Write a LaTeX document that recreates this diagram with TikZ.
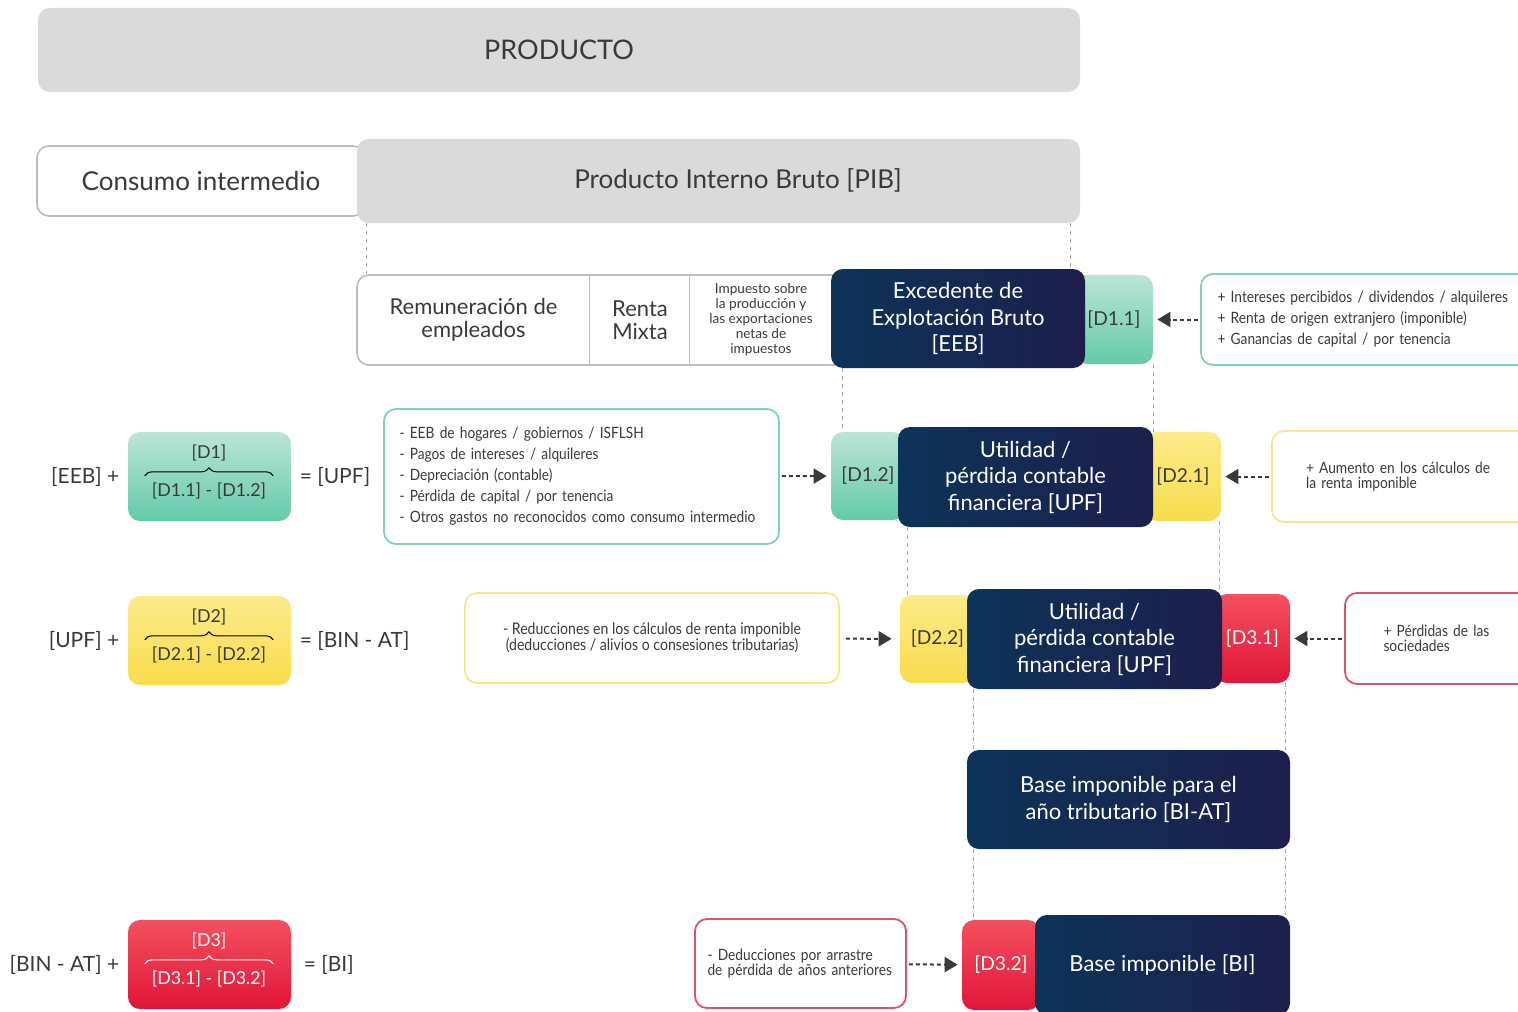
\documentclass[tikz,border=0pt]{standalone}
\usepackage{fontspec}
\setmainfont{Lato}
\newfontfamily\narrowfont[FakeStretch=0.88]{Lato}
\usetikzlibrary{positioning, arrows.meta, decorations.pathreplacing}

\definecolor{inkgray}{HTML}{3A3A3A}
\definecolor{panelgray}{HTML}{DADADA}
\definecolor{edgegray}{HTML}{BDBDBD}
\definecolor{navyL}{HTML}{0D3358}
\definecolor{navyR}{HTML}{1C1F4C}
\definecolor{mintT}{HTML}{BCE5D7}
\definecolor{mintB}{HTML}{63CAA9}
\definecolor{mintEdge}{HTML}{7DD3B6}
\definecolor{sunT}{HTML}{FCEB8A}
\definecolor{sunB}{HTML}{F8DC4C}
\definecolor{sunEdge}{HTML}{F5E78C}
\definecolor{rubyT}{HTML}{F4505F}
\definecolor{rubyB}{HTML}{E01638}
\definecolor{rubyEdge}{HTML}{E25068}

\newcommand\txtHead{\fontsize{13.5}{15}\selectfont}
\newcommand\txtTop{\fontsize{13}{15}\selectfont}
\newcommand\txtCore{\fontsize{11}{13.25}\selectfont}
\newcommand\txtRow{\fontsize{11}{11.5}\selectfont}
\newcommand\txtTag{\fontsize{9.6}{11}\selectfont}
\newcommand\txtEq{\fontsize{8.9}{10}\selectfont}
\newcommand\txtSide{\fontsize{10.5}{12}\selectfont}
\newcommand\txtList{\narrowfont\fontsize{7.8}{10.5}\selectfont\hyphenpenalty=10000 }
\newcommand\txtNote{\narrowfont\fontsize{7.8}{7.8}\selectfont\hyphenpenalty=10000 }
\newcommand\txtImp{\fontsize{6.8}{7.5}\selectfont}

\begin{document}
\begin{tikzpicture}
		[x=0.5pt, y=-0.5pt, text=inkgray,
		 panel/.style = {fill=panelgray, rounded corners=6pt, font=\txtTop},
		 frame/.style = {draw=edgegray, line width=0.8pt, fill=white, rounded corners=6pt},
		 divider/.style = {draw=edgegray, line width=0.8pt},
		 core/.style = {rounded corners=6pt, left color=navyL, right color=navyR, text=white, align=center, font=\txtCore},
		 part/.style = {rounded corners=6pt, inner sep=1pt, font=\txtTag},
		 mint/.style = {top color=mintT, bottom color=mintB},
		 sun/.style = {top color=sunT, bottom color=sunB},
		 ruby/.style = {top color=rubyT, bottom color=rubyB, text=white},
		 note/.style = {fill=white, line width=0.9pt, rounded corners=6pt},
		 guide/.style = {draw=gray!70, line width=0.5pt, dash pattern=on 2pt off 2pt},
		 feed/.style = {draw=inkgray, line width=1pt, dash pattern=on 2pt off 1.5pt, -{Triangle[length=6.5pt, width=7.5pt]}, shorten <=1pt, shorten >=2pt},
		 brace/.style = {decorate, decoration={brace, amplitude=4pt}, line width=0.5pt}]
		\useasboundingbox (0,0) rectangle (1518,1011);
		\fill[white] (0,0) rectangle (1518,1011);
		\clip (0,0) rectangle (1518,1011);

		\node[panel, minimum width=521pt, minimum height=42pt, font=\txtHead] (prod) at (559,50) {PRODUCTO};
		\node[frame, minimum width=164pt, minimum height=35pt, font=\txtTop] (cons) at (201,181) {Consumo intermedio};
		\node[panel, minimum width=361.5pt, minimum height=42pt] (pib) at (718.5,181) {};
		\node[font=\txtTop] (pibtxt) at (738,180) {Producto Interno Bruto [PIB]};

		\node[frame, minimum width=244pt, minimum height=45pt] (comp) at (601,320) {};
		\node[minimum width=116.5pt, minimum height=45pt, align=center, font=\txtRow] (rem) at (473.5,320) {Remuneración de\\empleados};
		\node[minimum width=50pt, minimum height=45pt, align=center, font=\txtRow] (mix) at (640,320) {Renta\\Mixta};
		\node[minimum width=71pt, minimum height=45pt, align=center, font=\txtImp] (imp) at (761,320) {Impuesto sobre\\la producción y\\las exportaciones\\netas de\\impuestos};
		\draw[divider] (mix.north west) -- (mix.south west);
		\draw[divider] (imp.north west) -- (imp.south west);

		\node[part, mint, minimum width=39pt, minimum height=44.5pt] (d11) at (1114,319.5) {[D1.1]};
		\node[core, minimum width=127pt, minimum height=49.5pt] (eeb) at (958,318.5) {Excedente de\\Explotación Bruto\\{[EEB]}};
		\node[note, draw=mintEdge, minimum width=164.5pt, minimum height=45.5pt, text width=148pt, align=left, font=\txtList] (src1) at (1365.5,319.5) {+ Intereses percibidos / dividendos / alquileres\\+ Renta de origen extranjero (imponible)\\+ Ganancias de capital / por tenencia};

		\node[part, mint, minimum width=37pt, minimum height=44pt] (d12) at (868,476) {[D1.2]};
		\node[part, sun, minimum width=38pt, minimum height=44.5pt] (d21) at (1183,476.5) {[D2.1]};
		\node[core, minimum width=127.5pt, minimum height=50pt] (upf1) at (1025.5,477) {Utilidad /\\pérdida contable\\financiera [UPF]};
		\node[note, draw=sunEdge, minimum width=129pt, minimum height=45.5pt, text width=95pt, align=left, font=\txtNote] (src2) at (1401,476.5) {+ Aumento en los cálculos de\\la renta imponible};
		\node[note, draw=mintEdge, minimum width=197.5pt, minimum height=67.5pt, text width=182pt, align=left, font=\txtList] (adj1) at (581.5,476.5) {- EEB de hogares / gobiernos / ISFLSH\\- Pagos de intereses / alquileres\\- Depreciación (contable)\\- Pérdida de capital / por tenencia\\- Otros gastos no reconocidos como consumo intermedio};

		\node[part, mint, minimum width=81.5pt, minimum height=44.5pt] (eq1) at (209.5,476.5) {};
		\node[font=\txtEq] (eq1top) at (209,453) {[D1]};
		\node[font=\txtEq] (eq1low) at (209,491) {[D1.1] - [D1.2]};
		\draw[brace] (eq1low.north west) -- (eq1low.north east);
		\node[font=\txtSide, inner sep=0pt, left=4pt of eq1] (eq1lhs) {[EEB] +};
		\node[font=\txtSide, inner sep=0pt, right=4pt of eq1] (eq1rhs) {= [UPF]};

		\node[part, sun, minimum width=37.5pt, minimum height=44pt] (d22) at (937.5,639) {[D2.2]};
		\node[part, ruby, minimum width=37.5pt, minimum height=44.5pt] (d31) at (1252.5,638.5) {[D3.1]};
		\node[core, minimum width=127.5pt, minimum height=50pt] (upf2) at (1094.5,639) {Utilidad /\\pérdida contable\\financiera [UPF]};
		\node[note, draw=rubyEdge, minimum width=92.5pt, minimum height=45.5pt, text width=54pt, align=left, font=\txtNote] (src3) at (1437.5,638.5) {+ Pérdidas de las\\sociedades};
		\node[note, draw=sunEdge, minimum width=187pt, minimum height=45pt, align=center, font=\narrowfont\fontsize{8}{8.2}\selectfont] (adj2) at (652,638) {- Reducciones en los cálculos de renta imponible\\(deducciones / alivios o consesiones tributarias)};

		\node[part, sun, minimum width=81.5pt, minimum height=44.5pt] (eq2) at (209.5,640.5) {};
		\node[font=\txtEq] (eq2top) at (209,617) {[D2]};
		\node[font=\txtEq] (eq2low) at (209,655) {[D2.1] - [D2.2]};
		\draw[brace] (eq2low.north west) -- (eq2low.north east);
		\node[font=\txtSide, inner sep=0pt, left=4pt of eq2] (eq2lhs) {[UPF] +};
		\node[font=\txtSide, inner sep=0pt, right=4pt of eq2] (eq2rhs) {= [BIN - AT]};

		\node[core, minimum width=161.5pt, minimum height=49.5pt] (biat) at (1128.5,799.5) {Base imponible para el\\año tributario [BI-AT]};

		\node[part, ruby, minimum width=39pt, minimum height=45pt] (d32) at (1001,965) {[D3.2]};
		\node[core, minimum width=127.5pt, minimum height=50pt] (bi) at (1162.5,965) {Base imponible [BI]};
		\node[note, draw=rubyEdge, minimum width=105.5pt, minimum height=44.5pt, text width=93pt, align=left, font=\narrowfont\fontsize{7.8}{7.5}\selectfont] (adj3) at (800.5,963.5) {- Deducciones por arrastre\\de pérdida de años anteriores};

		\node[part, ruby, minimum width=81.5pt, minimum height=44.5pt] (eq3) at (209.5,964.5) {};
		\node[font=\txtEq, text=white] (eq3top) at (209,941) {[D3]};
		\node[font=\txtEq, text=white] (eq3low) at (209,979) {[D3.1] - [D3.2]};
		\draw[brace, white] (eq3low.north west) -- (eq3low.north east);
		\node[font=\txtSide, inner sep=0pt, left=4pt of eq3] (eq3lhs) {[BIN - AT] +};
		\node[font=\txtSide, inner sep=0pt, right=6pt of eq3] (eq3rhs) {= [BI]};

		\coordinate (g1) at ([xshift=5pt]pib.south west);
		\coordinate (g2) at ([xshift=-5pt]pib.south east);
		\coordinate (g3) at ([xshift=6pt]eeb.south west);
		\coordinate (g4) at (d11.south east);
		\coordinate (g5) at ([xshift=5pt]upf1.south west);
		\coordinate (g6) at ([xshift=-1pt]d21.south east);
		\coordinate (g7) at ([xshift=3.5pt]upf2.south west);
		\coordinate (g8) at ([xshift=-2.5pt]d31.south east);
		\coordinate (g9) at ([xshift=3.5pt]biat.south west);
		\coordinate (g10) at ([xshift=-2.5pt]biat.south east);
		\draw[guide] (g1) -- (g1 |- comp.north);
		\draw[guide] (g2) -- (g2 |- eeb.north);
		\draw[guide] (g3) -- (g3 |- d12.north);
		\draw[guide] (g4) -- (g4 |- d21.north);
		\draw[guide] (g5) -- (g5 |- d22.north);
		\draw[guide] (g6) -- (g6 |- d31.north);
		\draw[guide] (g7) -- (g7 |- biat.north);
		\draw[guide] (g8) -- (g8 |- biat.north);
		\draw[guide] (g9) -- (g9 |- d32.north);
		\draw[guide] (g10) -- (g10 |- bi.north);

		\draw[feed] (src1) -- (d11);
		\draw[feed] (adj1) -- (d12);
		\draw[feed] (src2) -- (d21);
		\draw[feed, shorten <=3pt, shorten >=4pt] (adj2) -- (d22);
		\draw[feed] (src3) -- (d31);
		\draw[feed] (adj3) -- (d32);
	\end{tikzpicture}
\end{document}
